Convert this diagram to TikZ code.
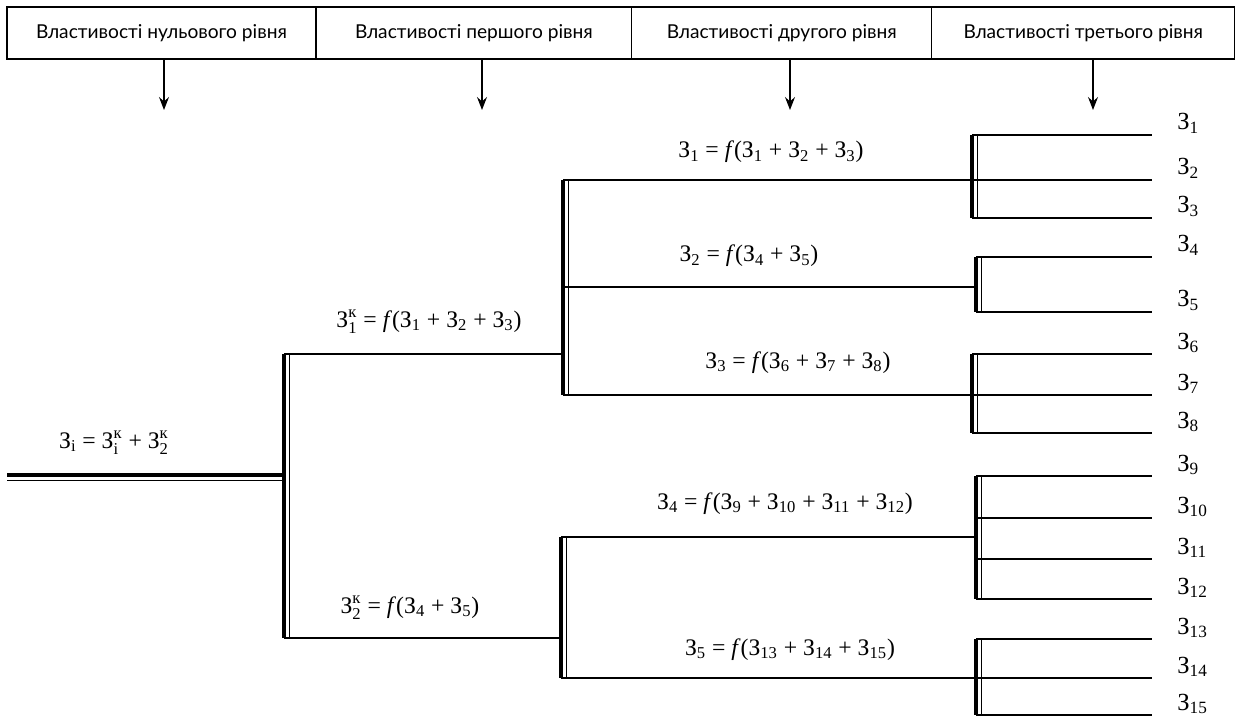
\documentclass[tikz,border=0pt]{standalone}
\usepackage{amsmath}
\usepackage{fontspec}
\setmainfont{Liberation Serif}
\newfontfamily\headfont{Lato}
\usetikzlibrary{positioning, arrows.meta}

\newcommand{\Zs}[1]{З$_{\text{#1}}$}
\newcommand{\Zk}[1]{З$^{\text{к}}_{\text{#1}}$}

\tikzset{
    head/.style = {draw, line width=0.7pt, minimum height=1.04cm, outer sep=0pt, inner sep=0pt, font=\headfont\fontsize{10.9}{12}\selectfont},
    bar/.style = {line width=2.3pt},
    rail/.style = {line width=0.75pt},
    formula/.style = {anchor=base, inner sep=0pt, font=\fontsize{13.5}{15}\selectfont},
    leaf/.style = {anchor=base west, inner sep=0pt, font=\fontsize{14}{15}\selectfont},
    down/.style = {-{Stealth[length=2.6mm, width=2mm, inset=0.9mm]}, line width=0.7pt}
}

\begin{document}
\begin{tikzpicture}[x = 0.02cm, y = -0.02cm]
    \useasboundingbox (0, 0) rectangle (1241, 726);

    \node[head, minimum width=6.18cm, anchor=north west] (h0) at (7, 7) {Властивості нульового рівня};
    \node[head, minimum width=6.32cm, right=0pt of h0] (h1) {Властивості першого рівня};
    \node[head, minimum width=6cm, right=0pt of h1] (h2) {Властивості другого рівня};
    \node[head, minimum width=6.06cm, right=0pt of h2] (h3) {Властивості третього рівня};

    \foreach \n/\x in {0/164, 1/482, 2/790, 3/1093} {
        \coordinate (a\n) at (\x, 110);
        \draw[down] (a\n |- h\n.south) -- (a\n);
    }

    \draw[bar] (7, 475) -- (284, 475);
    \draw[rail] (7, 480.5) -- (284, 480.5);

    \foreach \x/\ya/\yb in {284/354/638, 563/180/395, 561/537/678, 972/135/218, 976/257/312, 972/354/433, 976/476/599, 976/639/715} {
        \draw[bar] (\x, \ya) -- (\x, \yb);
        \draw[rail] (\x + 5.5, \ya) -- (\x + 5.5, \yb);
    }

    \draw[rail] (284, 354) -- (563, 354);
    \draw[rail] (284, 638) -- (561, 638);
    \foreach \y/\xa/\xb in {180/563/972, 287/563/976, 395/563/972, 537/561/976, 678/561/976}
        \draw[rail] (\xa, \y) -- (\xb, \y);

    \foreach \y/\x [count=\i] in {135/972, 180/972, 218/972, 257/976, 312/976, 354/972, 395/972, 433/972, 476/976, 518/976, 559/976, 599/976, 639/976, 678/976, 715/976} {
        \draw[rail] (\x, \y) -- (1152, \y);
        \node[leaf] (z\i) at (1177, \y - 5) {\Zs{\i}};
    }

    \node[formula] (f0) at (114, 448) {\Zs{i} = \Zk{i} + \Zk{2}};
    \node[formula] (f1) at (429, 327) {\Zk{1} = \textit{f}(\Zs{1} + \Zs{2} + \Zs{3})};
    \node[formula] (f2) at (410, 613) {\Zk{2} = \textit{f}(\Zs{4} + \Zs{5})};
    \node[formula] (g1) at (771, 158) {\Zs{1} = \textit{f}(\Zs{1} + \Zs{2} + \Zs{3})};
    \node[formula] (g2) at (749, 262) {\Zs{2} = \textit{f}(\Zs{4} + \Zs{5})};
    \node[formula] (g3) at (798, 368) {\Zs{3} = \textit{f}(\Zs{6} + \Zs{7} + \Zs{8})};
    \node[formula] (g4) at (785, 509) {\Zs{4} = \textit{f}(\Zs{9} + \Zs{10} + \Zs{11} + \Zs{12})};
    \node[formula] (g5) at (790, 655) {\Zs{5} = \textit{f}(\Zs{13} + \Zs{14} + \Zs{15})};
\end{tikzpicture}
\end{document}
